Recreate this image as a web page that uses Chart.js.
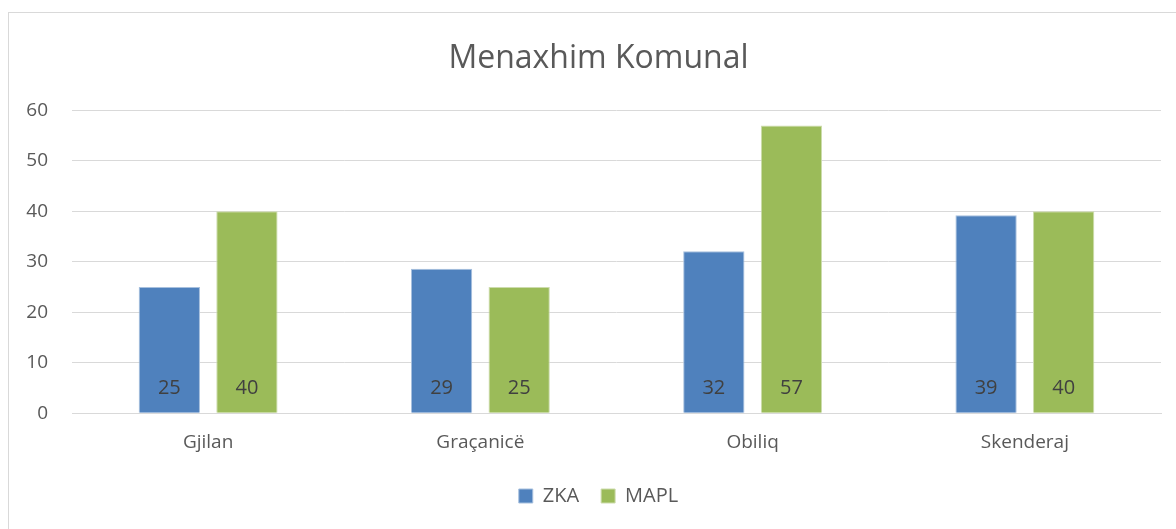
<!DOCTYPE html>
<html>
<head>
<meta charset="utf-8">
<script src="https://cdn.jsdelivr.net/npm/chart.js@4"></script>
<style>
  html, body { margin: 0; padding: 0; background: #fff; }
  #frame {
    position: absolute; left: 8px; top: 12px;
    width: 1180px; height: 530px;
    border: 1px solid #d9d9d9; box-sizing: border-box;
  }
  #wrap { position: absolute; left: 0; top: 0; width: 1176px; height: 529px; }
</style>
</head>
<body>
<div id="frame"></div>
<div id="wrap"><canvas id="grafico" width="1176" height="529"></canvas></div>
<script>
const komunat = ['Gjilan', 'Graçanicë', 'Obiliq', 'Skenderaj'];
const valoriZKA = [25, 28.6, 32.1, 39.2];
const valoriMAPL = [40, 25, 57, 40];
const tickY = [0, 10, 20, 30, 40, 50, 60];

const fontFamily = "'Open Sans', 'Noto Sans', sans-serif";

// etiketat e vlerave ne fund te shtyllave + etiketat e boshtit y
const etiketaPlugin = {
    id: 'etiketa',
    afterDatasetsDraw(chart) {
        const ctx = chart.ctx;
        ctx.save();
        ctx.font = '20px ' + fontFamily;
        ctx.fillStyle = '#404040';
        ctx.textAlign = 'center';
        ctx.textBaseline = 'middle';
        chart.data.datasets.forEach(function(ds, i) {
            chart.getDatasetMeta(i).data.forEach(function(bar, j) {
                ctx.fillText(Math.round(ds.data[j]), bar.x, bar.base - 24);
            });
        });

        const y = chart.scales.y;
        ctx.font = '19px ' + fontFamily;
        ctx.fillStyle = '#595959';
        ctx.textAlign = 'right';
        tickY.forEach(function(v) {
            ctx.fillText(String(v), chart.chartArea.left - 24, y.getPixelForValue(v));
        });
        ctx.restore();
    }
};

new Chart(document.getElementById('grafico').getContext('2d'), {
    type: 'bar',
    data: {
        labels: komunat,
        datasets: [{
            label: 'ZKA',
            data: valoriZKA,
            backgroundColor: '#4f81bd',
            borderColor: '#a7c0de',
            borderWidth: 1,
            barPercentage: 0.79,
            categoryPercentage: 0.57
        }, {
            label: 'MAPL',
            data: valoriMAPL,
            backgroundColor: '#9bbb59',
            borderColor: '#cddcad',
            borderWidth: 1,
            barPercentage: 0.79,
            categoryPercentage: 0.57
        }]
    },
    options: {
        responsive: false,
        animation: false,
        layout: { padding: { left: 36, right: 15, top: 32, bottom: 13 } },
        plugins: {
            title: {
                display: true,
                text: 'Menaxhim Komunal',
                color: '#595959',
                font: { family: fontFamily, size: 32, weight: 'normal' },
                padding: { top: 8, bottom: 32 }
            },
            legend: {
                position: 'bottom',
                labels: {
                    color: '#595959',
                    font: { family: fontFamily, size: 20 },
                    boxWidth: 14,
                    boxHeight: 14,
                    padding: 22
                }
            },
            tooltip: { enabled: false }
        },
        scales: {
            x: {
                grid: { display: false },
                border: { color: '#d9d9d9' },
                ticks: {
                    color: '#595959',
                    font: { family: fontFamily, size: 19 },
                    padding: 10
                }
            },
            y: {
                min: 0,
                max: 60,
                afterBuildTicks(axis) {
                    axis.ticks = tickY.map(v => ({ value: v }));
                },
                afterFit(axis) {
                    axis.width = 36;
                },
                grid: { color: '#d9d9d9', drawTicks: false },
                border: { display: false },
                ticks: { display: false }
            }
        }
    },
    plugins: [etiketaPlugin]
});
</script>
</body>
</html>
